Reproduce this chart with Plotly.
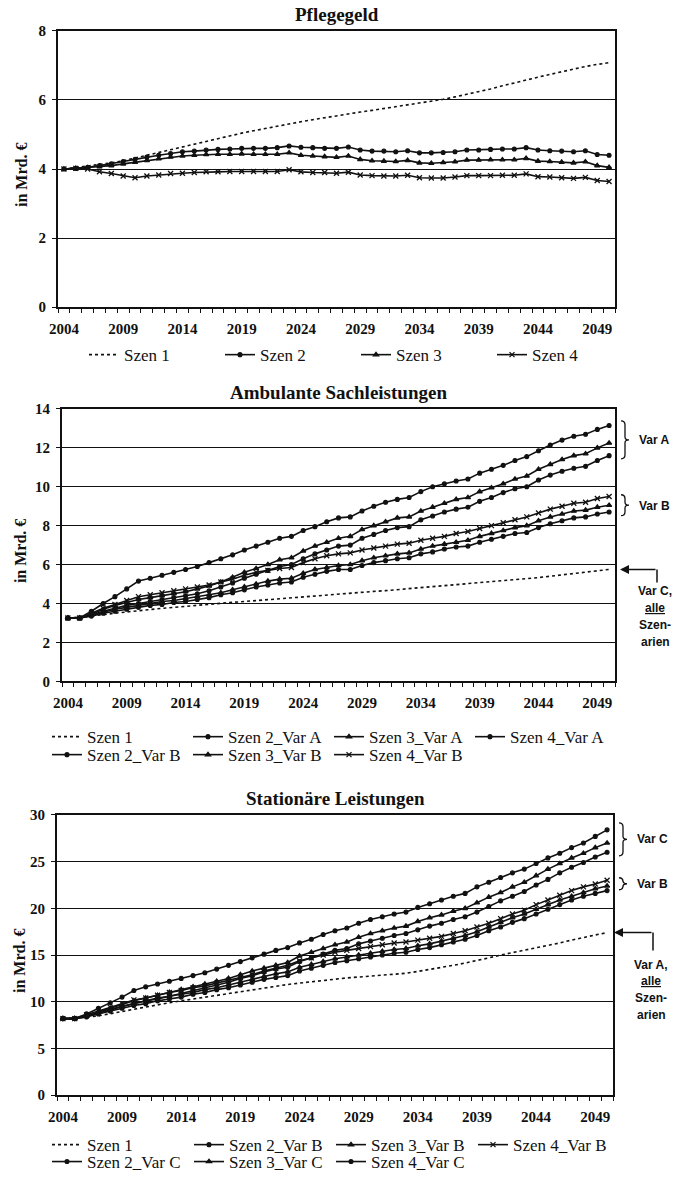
import plotly.graph_objects as go

W, H = 676, 1180

YEARS = list(range(2004, 2051))
TICK_YEARS = [2004, 2009, 2014, 2019, 2024, 2029, 2034, 2039, 2044, 2049]

# Pflegegeld (in Mrd. €)
P_SZEN1 = [4.00, 4.04, 4.08, 4.12, 4.18, 4.24, 4.32, 4.40, 4.48, 4.57, 4.66, 4.74, 4.82, 4.90, 4.97, 5.04,
           5.11, 5.18, 5.25, 5.31, 5.37, 5.43, 5.49, 5.55, 5.60, 5.65, 5.70, 5.75, 5.80, 5.85, 5.90, 5.96,
           6.02, 6.09, 6.16, 6.24, 6.32, 6.41, 6.50, 6.58, 6.66, 6.74, 6.82, 6.90, 6.97, 7.03, 7.08]
P_SZEN2 = [4.00, 4.02, 4.05, 4.10, 4.15, 4.22, 4.28, 4.35, 4.40, 4.45, 4.50, 4.52, 4.55, 4.57, 4.58, 4.60,
           4.60, 4.60, 4.62, 4.67, 4.63, 4.62, 4.60, 4.60, 4.64, 4.55, 4.52, 4.52, 4.50, 4.53, 4.47, 4.47,
           4.48, 4.50, 4.55, 4.55, 4.57, 4.58, 4.58, 4.62, 4.55, 4.53, 4.52, 4.50, 4.53, 4.42, 4.40]
P_SZEN3 = [4.00, 4.02, 4.04, 4.07, 4.10, 4.15, 4.20, 4.25, 4.30, 4.35, 4.38, 4.40, 4.42, 4.43, 4.43, 4.44,
           4.43, 4.43, 4.43, 4.47, 4.40, 4.38, 4.36, 4.34, 4.38, 4.28, 4.24, 4.23, 4.22, 4.25, 4.18, 4.17,
           4.19, 4.21, 4.26, 4.26, 4.27, 4.27, 4.27, 4.31, 4.23, 4.22, 4.20, 4.18, 4.21, 4.10, 4.05]
P_SZEN4 = [4.00, 4.02, 4.00, 3.92, 3.87, 3.80, 3.75, 3.80, 3.83, 3.87, 3.88, 3.90, 3.92, 3.92, 3.93, 3.93,
           3.93, 3.93, 3.93, 3.98, 3.92, 3.90, 3.90, 3.88, 3.91, 3.83, 3.81, 3.80, 3.80, 3.82, 3.75, 3.74,
           3.74, 3.77, 3.81, 3.81, 3.81, 3.82, 3.82, 3.86, 3.78, 3.77, 3.75, 3.73, 3.76, 3.67, 3.64]

# Ambulante Sachleistungen
A_SZEN1 = [3.25, 3.30, 3.35, 3.42, 3.50, 3.57, 3.63, 3.69, 3.75, 3.80, 3.86, 3.91, 3.96, 4.01, 4.06, 4.10,
           4.15, 4.20, 4.25, 4.30, 4.35, 4.40, 4.44, 4.48, 4.53, 4.57, 4.62, 4.66, 4.71, 4.75, 4.80, 4.85,
           4.90, 4.95, 5.00, 5.05, 5.10, 5.15, 5.20, 5.25, 5.33, 5.40, 5.47, 5.54, 5.60, 5.68, 5.75]
A_S2A = [3.25, 3.25, 3.40, 3.60, 3.75, 3.90, 4.00, 4.10, 4.20, 4.30, 4.40, 4.50, 4.65, 4.85, 5.05, 5.30,
         5.50, 5.70, 5.90, 6.00, 6.30, 6.55, 6.75, 6.95, 7.00, 7.35, 7.55, 7.75, 7.90, 7.95, 8.30, 8.50,
         8.70, 8.85, 8.95, 9.25, 9.45, 9.70, 9.90, 10.00, 10.35, 10.60, 10.80, 10.95, 11.05, 11.35, 11.60]
A_S3A = [3.25, 3.25, 3.45, 3.70, 3.90, 4.05, 4.20, 4.30, 4.40, 4.50, 4.60, 4.75, 4.90, 5.10, 5.35, 5.60,
         5.80, 6.00, 6.25, 6.35, 6.70, 6.95, 7.15, 7.35, 7.45, 7.80, 8.00, 8.20, 8.40, 8.45, 8.75, 8.95,
         9.15, 9.35, 9.45, 9.75, 9.95, 10.15, 10.40, 10.55, 10.90, 11.15, 11.40, 11.60, 11.70, 12.00, 12.25]
A_S4A = [3.25, 3.25, 3.60, 4.00, 4.35, 4.75, 5.15, 5.30, 5.45, 5.60, 5.75, 5.90, 6.10, 6.30, 6.50, 6.75,
         6.95, 7.15, 7.35, 7.45, 7.75, 7.95, 8.20, 8.40, 8.45, 8.75, 9.00, 9.20, 9.35, 9.45, 9.75, 10.00,
         10.15, 10.30, 10.40, 10.70, 10.90, 11.10, 11.35, 11.55, 11.85, 12.15, 12.40, 12.60, 12.70, 12.95, 13.15]
A_S2B = [3.25, 3.25, 3.35, 3.50, 3.60, 3.70, 3.80, 3.90, 3.95, 4.05, 4.10, 4.20, 4.30, 4.45, 4.55, 4.70,
         4.85, 4.95, 5.05, 5.10, 5.35, 5.50, 5.65, 5.75, 5.75, 5.95, 6.10, 6.20, 6.30, 6.35, 6.55, 6.65,
         6.80, 6.90, 6.95, 7.15, 7.30, 7.45, 7.60, 7.65, 7.90, 8.10, 8.25, 8.40, 8.45, 8.60, 8.70]
A_S3B = [3.25, 3.25, 3.40, 3.55, 3.70, 3.80, 3.90, 4.00, 4.10, 4.15, 4.25, 4.35, 4.45, 4.55, 4.70, 4.85,
         5.00, 5.15, 5.25, 5.30, 5.55, 5.75, 5.85, 5.95, 6.00, 6.20, 6.35, 6.45, 6.55, 6.60, 6.80, 6.95,
         7.05, 7.15, 7.25, 7.45, 7.60, 7.75, 7.90, 8.00, 8.25, 8.45, 8.60, 8.75, 8.80, 8.95, 9.05]
A_S4B = [3.25, 3.25, 3.50, 3.75, 3.95, 4.15, 4.35, 4.45, 4.55, 4.65, 4.75, 4.85, 4.95, 5.10, 5.25, 5.45,
         5.60, 5.70, 5.80, 5.85, 6.10, 6.30, 6.45, 6.55, 6.60, 6.75, 6.85, 6.95, 7.05, 7.10, 7.25, 7.35,
         7.45, 7.60, 7.70, 7.85, 8.00, 8.15, 8.30, 8.45, 8.65, 8.85, 9.00, 9.15, 9.20, 9.40, 9.50]

# Stationäre Leistungen
S_SZEN1 = [8.20, 8.25, 8.35, 8.50, 8.70, 8.95, 9.20, 9.45, 9.70, 9.90, 10.10, 10.30, 10.50, 10.70, 10.90, 11.10,
           11.30, 11.50, 11.70, 11.85, 12.00, 12.15, 12.30, 12.45, 12.55, 12.65, 12.75, 12.85, 12.95, 13.05,
           13.25, 13.45, 13.65, 13.90, 14.15, 14.40, 14.70, 15.00, 15.25, 15.50, 15.75, 16.00, 16.30, 16.60,
           16.90, 17.15, 17.40]
S_S2B = [8.20, 8.20, 8.40, 8.70, 9.00, 9.30, 9.60, 9.80, 10.10, 10.30, 10.50, 10.80, 11.00, 11.30, 11.50, 11.80,
         12.10, 12.40, 12.60, 12.80, 13.30, 13.60, 13.90, 14.20, 14.40, 14.60, 14.80, 15.00, 15.20, 15.30,
         15.60, 15.80, 16.10, 16.40, 16.70, 17.10, 17.60, 18.00, 18.50, 18.90, 19.40, 19.90, 20.40, 20.90,
         21.30, 21.60, 21.90]
S_S3B = [8.20, 8.20, 8.50, 8.90, 9.20, 9.50, 9.80, 10.10, 10.30, 10.60, 10.80, 11.00, 11.30, 11.50, 11.80, 12.10,
         12.40, 12.70, 13.00, 13.20, 13.70, 14.00, 14.30, 14.60, 14.80, 15.00, 15.20, 15.40, 15.60, 15.70,
         16.00, 16.20, 16.50, 16.80, 17.10, 17.50, 18.00, 18.50, 19.00, 19.40, 19.90, 20.40, 20.90, 21.30,
         21.70, 22.10, 22.40]
S_S4B = [8.20, 8.20, 8.60, 9.00, 9.40, 9.80, 10.20, 10.40, 10.70, 11.00, 11.20, 11.50, 11.70, 12.00, 12.30, 12.60,
         12.90, 13.30, 13.60, 13.90, 14.40, 14.70, 15.00, 15.30, 15.50, 15.70, 15.90, 16.10, 16.30, 16.40,
         16.60, 16.80, 17.00, 17.30, 17.60, 18.00, 18.40, 18.90, 19.40, 19.80, 20.40, 20.90, 21.40, 21.90,
         22.30, 22.60, 23.00]
S_S2C = [8.20, 8.20, 8.40, 8.80, 9.10, 9.50, 9.80, 10.10, 10.40, 10.60, 10.90, 11.20, 11.50, 11.80, 12.10, 12.50,
         12.80, 13.20, 13.50, 13.70, 14.30, 14.70, 15.10, 15.50, 15.70, 16.20, 16.50, 16.80, 17.10, 17.30,
         17.70, 18.10, 18.40, 18.80, 19.10, 19.60, 20.20, 20.80, 21.30, 21.80, 22.50, 23.10, 23.80, 24.40,
         24.90, 25.50, 26.00]
S_S3C = [8.20, 8.20, 8.50, 8.90, 9.30, 9.70, 10.10, 10.40, 10.70, 11.00, 11.30, 11.60, 11.90, 12.20, 12.50, 12.90,
         13.30, 13.60, 13.90, 14.20, 14.90, 15.30, 15.70, 16.10, 16.40, 16.90, 17.30, 17.60, 17.90, 18.10,
         18.60, 19.00, 19.30, 19.70, 20.00, 20.60, 21.20, 21.70, 22.30, 22.80, 23.50, 24.20, 24.80, 25.40,
         25.90, 26.50, 27.00]
S_S4C = [8.20, 8.20, 8.70, 9.30, 9.90, 10.50, 11.20, 11.60, 11.90, 12.20, 12.50, 12.80, 13.10, 13.50, 13.90, 14.30,
         14.70, 15.10, 15.50, 15.80, 16.30, 16.70, 17.20, 17.60, 17.90, 18.40, 18.80, 19.10, 19.40, 19.60,
         20.10, 20.50, 20.90, 21.30, 21.60, 22.30, 22.80, 23.30, 23.80, 24.20, 24.80, 25.40, 25.90, 26.50,
         27.00, 27.70, 28.40]

# je Panel: Titel, y-Achse, Legendenzeilen [(Name, Werte), ...]
PANELS = [
    dict(title="Pflegegeld", ymax=8, dtick=2,
         rows=[[("Szen 1", P_SZEN1), ("Szen 2", P_SZEN2), ("Szen 3", P_SZEN3), ("Szen 4", P_SZEN4)]]),
    dict(title="Ambulante Sachleistungen", ymax=14, dtick=2,
         rows=[[("Szen 1", A_SZEN1), ("Szen 2_Var A", A_S2A), ("Szen 3_Var A", A_S3A), ("Szen 4_Var A", A_S4A)],
               [("Szen 2_Var B", A_S2B), ("Szen 3_Var B", A_S3B), ("Szen 4_Var B", A_S4B)]]),
    dict(title="Stationäre Leistungen", ymax=30, dtick=5,
         rows=[[("Szen 1", S_SZEN1), ("Szen 2_Var B", S_S2B), ("Szen 3_Var B", S_S3B), ("Szen 4_Var B", S_S4B)],
               [("Szen 2_Var C", S_S2C), ("Szen 3_Var C", S_S3C), ("Szen 4_Var C", S_S4C)]]),
]

# Pixel-Layout (links, rechts, oben, unten) der drei Diagrammflächen
BOXES = [(58, 615, 31, 308), (62, 615, 410, 683), (57, 613, 817, 1098)]
LEGEND_ROWS = [[356], [739, 757], [1148, 1165]]
LEGEND_X = [92, 55, 55]
LEGEND_STEP = [138, 143, 144]
YTITLE_X = [21, 20, 19]

SERIF = "Liberation Serif, Times New Roman, serif"
SANS = "Liberation Sans, Arial, sans-serif"
INK = "#111111"


def px(x):
    return x / W


def py(y):
    return 1 - y / H


def style(name):
    if name == "Szen 1":
        return dict(mode="lines", line=dict(color=INK, width=1.6, dash="dot"))
    if name.startswith("Szen 3"):
        sym, size = "triangle-up", 4.5
    elif name == "Szen 4" or name == "Szen 4_Var B":
        sym, size = "x-thin", 5
    else:
        sym, size = "circle", 3.8
    return dict(mode="lines+markers", line=dict(color=INK, width=1.6),
                marker=dict(symbol=sym, size=size, color=INK, line=dict(color=INK, width=1.3)))


fig = go.Figure()
layout = dict(width=W, height=H, margin=dict(l=0, r=0, t=0, b=0), template="none",
              paper_bgcolor="white", plot_bgcolor="white",
              font=dict(family=SERIF, color=INK), annotations=[], shapes=[])

leg_no = 0
for i, (panel, box) in enumerate(zip(PANELS, BOXES)):
    n = "" if i == 0 else str(i + 1)
    for r_i, row in enumerate(panel["rows"]):
        leg_no += 1
        leg = "legend" if leg_no == 1 else f"legend{leg_no}"
        for name, vals in row:
            fig.add_trace(go.Scatter(x=YEARS, y=vals, name=name, xaxis=f"x{n}", yaxis=f"y{n}",
                                     legend=leg, **style(name)))
        layout[leg] = dict(orientation="h", x=px(LEGEND_X[i] - 8), y=py(LEGEND_ROWS[i][r_i]),
                           xanchor="left", yanchor="middle",
                           entrywidth=LEGEND_STEP[i] - 47, entrywidthmode="pixels", itemwidth=30,
                           bgcolor="rgba(0,0,0,0)", borderwidth=0,
                           font=dict(family=SERIF, size=17, color=INK))
    l, r, t, b = box
    layout[f"xaxis{n}"] = dict(
        domain=[px(l), px(r)], anchor=f"y{n}", range=[2003.5, 2050.5], automargin=False,
        tickmode="array", tickvals=TICK_YEARS, ticks="", showgrid=False, zeroline=False,
        showline=True, linecolor=INK, linewidth=1.5, mirror=True, ticklabelstandoff=7,
        tickfont=dict(family=SERIF, size=15, color=INK, weight="bold"),
        minor=dict(ticks="outside", tick0=2003.5, dtick=1, ticklen=4, tickcolor=INK, tickwidth=1,
                   showgrid=False))
    layout[f"yaxis{n}"] = dict(
        domain=[py(b), py(t)], anchor=f"x{n}", range=[0, panel["ymax"]], dtick=panel["dtick"],
        automargin=False, ticks="outside", ticklen=4, tickcolor=INK, ticklabelstandoff=3,
        showgrid=True, gridcolor=INK, gridwidth=1,
        zeroline=False, showline=True, linecolor=INK, linewidth=2, mirror=True,
        tickfont=dict(family=SERIF, size=15, color=INK, weight="bold"))
    layout["annotations"].append(dict(
        text=f"<b>{panel['title']}</b>", xref="paper", yref="paper", x=px((l + r) / 2), y=py(t - 16),
        xanchor="center", yanchor="middle", showarrow=False,
        font=dict(family=SERIF, size=19, color=INK)))
    layout["annotations"].append(dict(
        text="<b>in Mrd. €</b>", xref="paper", yref="paper", x=px(YTITLE_X[i]), y=py((t + b) / 2 + 6),
        xanchor="center", yanchor="middle", showarrow=False, textangle=-90,
        font=dict(family=SERIF, size=16, color=INK)))


def brace(x, y0, y1):
    ym = (y0 + y1) / 2
    pts = (f"M {px(x)},{py(y0)} Q {px(x + 4)},{py(y0)} {px(x + 4)},{py(y0 + 4)} "
           f"L {px(x + 4)},{py(ym - 3)} Q {px(x + 4)},{py(ym)} {px(x + 8)},{py(ym)} "
           f"Q {px(x + 4)},{py(ym)} {px(x + 4)},{py(ym + 3)} "
           f"L {px(x + 4)},{py(y1 - 4)} Q {px(x + 4)},{py(y1)} {px(x)},{py(y1)}")
    return dict(type="path", path=pts, xref="paper", yref="paper", line=dict(color=INK, width=1.3))


def label(text, x, y, size=12):
    return dict(text=f"<b>{text}</b>", xref="paper", yref="paper", x=px(x), y=py(y),
                xanchor="center", yanchor="middle", showarrow=False,
                font=dict(family=SANS, size=size, color=INK))


def arrow(x_tip, x_end, y, y_down, lines, y_text):
    out_shapes = [dict(type="line", xref="paper", yref="paper", x0=px(x_end), x1=px(x_end),
                       y0=py(y), y1=py(y_down), line=dict(color=INK, width=1.5))]
    out_ann = [dict(text="", xref="paper", yref="paper", x=px(x_tip), y=py(y), ax=x_end - x_tip, ay=0,
                    showarrow=True, arrowhead=2, arrowsize=1.2, arrowwidth=1.5, arrowcolor=INK)]
    for k, txt in enumerate(lines):
        out_ann.append(label(txt, x_end - 2, y_text + 17 * k))
    return out_shapes, out_ann


layout["shapes"] += [brace(621, 422, 460), brace(621, 496, 517),
                     brace(619, 825, 858), brace(619, 880, 892)]
layout["annotations"] += [label("Var A", 654, 441), label("Var B", 654, 507),
                          label("Var C", 652, 841), label("Var B", 652, 886)]
s, a = arrow(620, 657, 571, 584, ["Var C,", "<u>alle</u>", "Szen-", "arien"], 593)
layout["shapes"] += s
layout["annotations"] += a
s, a = arrow(614, 653, 935, 953, ["Var A,", "<u>alle</u>", "Szen-", "arien"], 967)
layout["shapes"] += s
layout["annotations"] += a

fig.update_layout(**layout)
# Seitenrand des Browsers entfernen, damit die Figur genau das Fenster füllt; keine Werkzeugleiste
fig.write_html("out.html", config={"displayModeBar": False},
               post_script="document.body.style.margin='0';document.body.style.overflow='hidden';")
